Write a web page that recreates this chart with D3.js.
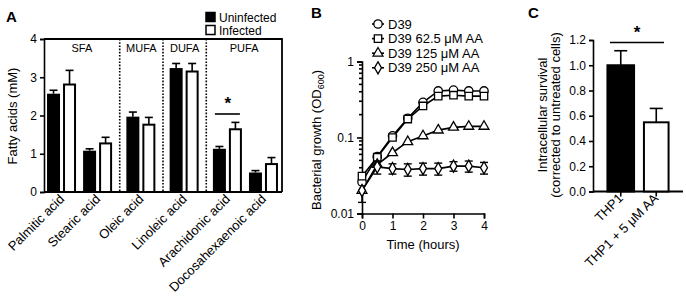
<!DOCTYPE html>
<html>
<head>
<meta charset="utf-8">
<script src="https://cdn.jsdelivr.net/npm/d3@7"></script>
<style>
  body { margin: 0; background: #fff; }
  svg { display: block; font-family: "Liberation Sans", Arial, sans-serif; }
  .axis path, .axis line { stroke: #000; stroke-width: 1.6; }
  .axis text { font-size: 12px; fill: #000; }
</style>
</head>
<body>
<div id="content"></div>
<script>
// ---- panel A data
const fattyAcids = ['Palmitic acid', 'Stearic acid', 'Oleic acid', 'Linoleic acid', 'Arachidonic acid', 'Docosahexaenoic acid'];
const acidClass = ['SFA', 'SFA', 'MUFA', 'DUFA', 'PUFA', 'PUFA'];
const uninfected = [2.57, 1.08, 1.97, 3.24, 1.13, 0.51];
const uninfectedErr = [0.09, 0.05, 0.12, 0.12, 0.06, 0.05];
const infected = [2.81, 1.27, 1.76, 3.15, 1.64, 0.73];
const infectedErr = [0.37, 0.16, 0.19, 0.21, 0.18, 0.17];
const ticksA = [0, 1, 2, 3, 4];

// ---- panel B data
const hours = [0, 0.5, 1, 1.5, 2, 2.5, 3, 3.5, 4];
const seriesNames = ['D39', 'D39 62.5 μM AA', 'D39 125 μM AA', 'D39 250 μM AA'];
const d39 = [0.026, 0.056, 0.105, 0.179, 0.29, 0.41, 0.42, 0.41, 0.41];
const d39_62 = [0.031, 0.055, 0.1, 0.175, 0.26, 0.35, 0.36, 0.35, 0.35];
const d39_125 = [0.02, 0.044, 0.063, 0.088, 0.105, 0.125, 0.136, 0.14, 0.14];
const d39_250 = [0.02, 0.041, 0.039, 0.038, 0.039, 0.039, 0.042, 0.042, 0.04];
const d39_250Err = [0.006, 0.008, 0.006, 0.007, 0.007, 0.007, 0.006, 0.007, 0.007];
const ticksB = [0.01, 0.1, 1];

// ---- panel C data
const cells = ['THP1', 'THP1 + 5 μM AA'];
const survival = [1.0, 0.548];
const survivalErr = [0.115, 0.11];
const ticksC = [0, 0.2, 0.4, 0.6, 0.8, 1.0, 1.2];

const svg = d3.select('#content').append('svg')
  .attr('width', 686).attr('height', 303);

function panelLabel(t, x, y) {
  svg.append('text').attr('x', x).attr('y', y).text(t)
    .style('font-size', '15px').style('font-weight', 'bold');
}

// =========== A
panelLabel('A', 6, 22);
// slot positions leave a gap between acid classes
const slots = [];
acidClass.forEach((c, i) => {
  if (i === 0) slots.push(0);
  else slots.push(slots[i - 1] + (c === acidClass[i - 1] ? 1 : 1.2));
});
const xA = d3.scaleLinear().domain([-0.5, 6.1]).range([44, 282]);
const yA = d3.scaleLinear().domain([0, 4]).range([192, 39]);

const gA = svg.append('g');
gA.append('g').attr('class', 'axis').attr('transform', 'translate(44,0)')
  .call(d3.axisLeft(yA).tickValues(ticksA).tickSize(4).tickFormat(d3.format('d')));
gA.append('line').attr('x1', 44).attr('x2', xA(6.1)).attr('y1', yA(0)).attr('y2', yA(0))
  .attr('stroke', '#000').attr('stroke-width', 1.8);
// box top + right
gA.append('path')
  .attr('d', `M44,${yA(4)}H${xA(6.1)}V${yA(0)}`)
  .attr('fill', 'none').attr('stroke', '#000').attr('stroke-width', 1.8);

// class separators and class names
const bounds = [-0.5];
acidClass.forEach((c, i) => {
  if (i > 0 && c !== acidClass[i - 1]) bounds.push((slots[i] + slots[i - 1]) / 2);
});
bounds.push(6.1);
bounds.slice(1, -1).forEach(b => {
  gA.append('line').attr('x1', xA(b)).attr('x2', xA(b)).attr('y1', yA(4)).attr('y2', yA(0))
    .attr('stroke', '#000').attr('stroke-width', 1.6).attr('stroke-dasharray', '1.6,1.6');
});
const classNames = acidClass.filter((c, i) => i === 0 || c !== acidClass[i - 1]);
classNames.forEach((c, i) => {
  gA.append('text').attr('x', (xA(bounds[i]) + xA(bounds[i + 1])) / 2).attr('y', 52)
    .attr('text-anchor', 'middle').style('font-size', '11px').text(c);
});

function errBar(g, x, y0, y1, half) {
  g.append('line').attr('x1', x).attr('x2', x).attr('y1', y0).attr('y2', y1)
    .attr('stroke', '#000').attr('stroke-width', 1.6);
  g.append('line').attr('x1', x - half).attr('x2', x + half).attr('y1', y1).attr('y2', y1)
    .attr('stroke', '#000').attr('stroke-width', 1.6);
}

fattyAcids.forEach((name, i) => {
  const c = xA(slots[i]);
  errBar(gA, c - 8.5, yA(uninfected[i]), yA(uninfected[i] + uninfectedErr[i]), 4);
  errBar(gA, c + 7.5, yA(infected[i]), yA(infected[i] + infectedErr[i]), 4);
  gA.append('rect').attr('x', c - 15).attr('width', 13)
    .attr('y', yA(uninfected[i])).attr('height', yA(0) - yA(uninfected[i])).attr('fill', '#000');
  gA.append('rect').attr('x', c + 2).attr('width', 11)
    .attr('y', yA(infected[i])).attr('height', yA(0) - yA(infected[i]))
    .attr('fill', '#fff').attr('stroke', '#000').attr('stroke-width', 2);
  gA.append('text')
    .attr('transform', `translate(${c + 3},${200}) rotate(-45)`)
    .attr('text-anchor', 'end').style('font-size', '13px').text(name);
});
// significance, arachidonic acid
const ia = fattyAcids.indexOf('Arachidonic acid');
gA.append('line').attr('x1', xA(slots[ia]) - 13).attr('x2', xA(slots[ia]) + 12)
  .attr('y1', 114).attr('y2', 114).attr('stroke', '#000').attr('stroke-width', 1.6);
gA.append('text').attr('x', xA(slots[ia])).attr('y', 109).attr('text-anchor', 'middle')
  .style('font-size', '17px').style('font-weight', 'bold').text('*');

gA.append('text').attr('transform', 'translate(17,116) rotate(-90)')
  .attr('text-anchor', 'middle').style('font-size', '13px').text('Fatty acids (mM)');

// legend A
[['Uninfected', '#000'], ['Infected', '#fff']].forEach((d, i) => {
  gA.append('rect').attr('x', 206).attr('y', 12.5 + i * 13).attr('width', 9).attr('height', 9)
    .attr('fill', d[1]).attr('stroke', '#000').attr('stroke-width', 1.5);
  gA.append('text').attr('x', 219).attr('y', 21.5 + i * 13).style('font-size', '12px').text(d[0]);
});

// =========== B
panelLabel('B', 311, 18);
const xB = d3.scaleLinear().domain([0, 4]).range([362, 484]);
const yB = d3.scaleLog().domain([0.01, 1]).range([213.5, 61.5]);
const gB = svg.append('g');
gB.append('g').attr('class', 'axis').attr('transform', 'translate(0,213.5)')
  .call(d3.axisBottom(xB).tickValues([0, 1, 2, 3, 4]).tickSize(5).tickFormat(d3.format('d')));
const yAxisB = gB.append('g').attr('class', 'axis').attr('transform', 'translate(362,0)');
yAxisB.call(d3.axisLeft(yB).tickValues(ticksB).tickSize(5).tickFormat(d => String(d)));
// minor log ticks
const minor = [];
[0.01, 0.1].forEach(dec => { for (let k = 2; k <= 9; k++) minor.push(dec * k); });
yAxisB.selectAll('.minor').data(minor).enter().append('line')
  .attr('x1', -3).attr('x2', 0).attr('y1', d => yB(d)).attr('y2', d => yB(d))
  .attr('stroke', '#000').attr('stroke-width', 1.2);

const yLabB = gB.append('text').attr('transform', 'translate(321,140) rotate(-90)')
  .attr('text-anchor', 'middle').style('font-size', '13px');
yLabB.append('tspan').text('Bacterial growth (OD');
yLabB.append('tspan').attr('dy', 3).style('font-size', '9px').text('600');
yLabB.append('tspan').attr('dy', -3).text(')');

const series = [d39, d39_62, d39_125, d39_250];
const symbols = [d3.symbolCircle, d3.symbolSquare, d3.symbolTriangle, d3.symbolDiamond];
const symSize = [55, 55, 42, 42];
const line = d3.line().x((d, i) => xB(hours[i])).y(d => yB(d));

// error bars for 250 µM
d39_250.forEach((v, i) => {
  const x = xB(hours[i]);
  gB.append('line').attr('x1', x).attr('x2', x)
    .attr('y1', yB(v - d39_250Err[i])).attr('y2', yB(v + d39_250Err[i]))
    .attr('stroke', '#000').attr('stroke-width', 1.4);
  [v - d39_250Err[i], v + d39_250Err[i]].forEach(e => {
    gB.append('line').attr('x1', x - 4).attr('x2', x + 4).attr('y1', yB(e)).attr('y2', yB(e))
      .attr('stroke', '#000').attr('stroke-width', 1.4);
  });
});

series.forEach((s, k) => {
  gB.append('path').attr('d', line(s)).attr('fill', 'none')
    .attr('stroke', '#000').attr('stroke-width', 1.6);
});
series.forEach((s, k) => {
  gB.selectAll(null).data(s).enter().append('path')
    .attr('d', d3.symbol().type(symbols[k]).size(symSize[k]))
    .attr('transform', (d, i) => `translate(${xB(hours[i])},${yB(d)})`)
    .attr('fill', '#fff').attr('stroke', '#000').attr('stroke-width', 1.3);
});
gB.append('text').attr('x', 423).attr('y', 249).attr('text-anchor', 'middle')
  .style('font-size', '13px').text('Time (hours)');

// legend B
seriesNames.forEach((n, k) => {
  const y = 24 + k * 14.6;
  gB.append('line').attr('x1', 372).attr('x2', 384).attr('y1', y).attr('y2', y)
    .attr('stroke', '#000').attr('stroke-width', 1.6);
  gB.append('path').attr('d', d3.symbol().type(symbols[k]).size(symSize[k])())
    .attr('transform', `translate(378,${y})`)
    .attr('fill', '#fff').attr('stroke', '#000').attr('stroke-width', 1.3);
  gB.append('text').attr('x', 388).attr('y', y + 4.5).style('font-size', '13px').text(n);
});

// =========== C
panelLabel('C', 528, 18);
const xC = d3.scaleBand().domain(cells).range([603, 674]).paddingInner(0.25).paddingOuter(0.125);
const yC = d3.scaleLinear().domain([0, 1.2]).range([191.5, 40]);
const gC = svg.append('g');
gC.append('g').attr('class', 'axis').attr('transform', 'translate(593,0)')
  .call(d3.axisLeft(yC).tickValues(ticksC).tickSize(4).tickFormat(d3.format('.1f')));
gC.append('line').attr('x1', 593).attr('x2', 683).attr('y1', yC(0)).attr('y2', yC(0))
  .attr('stroke', '#000').attr('stroke-width', 1.8);
cells.forEach((c, i) => {
  const x0 = xC(c), w = xC.bandwidth(), cx = x0 + w / 2;
  errBar(gC, cx, yC(survival[i]), yC(survival[i] + survivalErr[i]), 6.5);
  gC.append('rect').attr('x', x0 + (i ? 1 : 0)).attr('width', w - (i ? 2 : 0))
    .attr('y', yC(survival[i])).attr('height', yC(0) - yC(survival[i]))
    .attr('fill', i ? '#fff' : '#000').attr('stroke', '#000').attr('stroke-width', 2);
  gC.append('line').attr('x1', cx).attr('x2', cx).attr('y1', yC(0)).attr('y2', yC(0) + 5)
    .attr('stroke', '#000').attr('stroke-width', 1.6);
  gC.append('text').attr('transform', `translate(${cx + 3},${199}) rotate(-45)`)
    .attr('text-anchor', 'end').style('font-size', '13px').text(c);
});
gC.append('line').attr('x1', 610).attr('x2', 664).attr('y1', 42.5).attr('y2', 42.5)
  .attr('stroke', '#000').attr('stroke-width', 1.6);
gC.append('text').attr('x', 637).attr('y', 38).attr('text-anchor', 'middle')
  .style('font-size', '17px').style('font-weight', 'bold').text('*');
gC.append('text').attr('transform', 'translate(547,115) rotate(-90)')
  .attr('text-anchor', 'middle').style('font-size', '13px').text('Intracellular survival');
gC.append('text').attr('transform', 'translate(560,115) rotate(-90)')
  .attr('text-anchor', 'middle').style('font-size', '13px').text('(corrected to untreated cells)');
</script>
</body>
</html>
